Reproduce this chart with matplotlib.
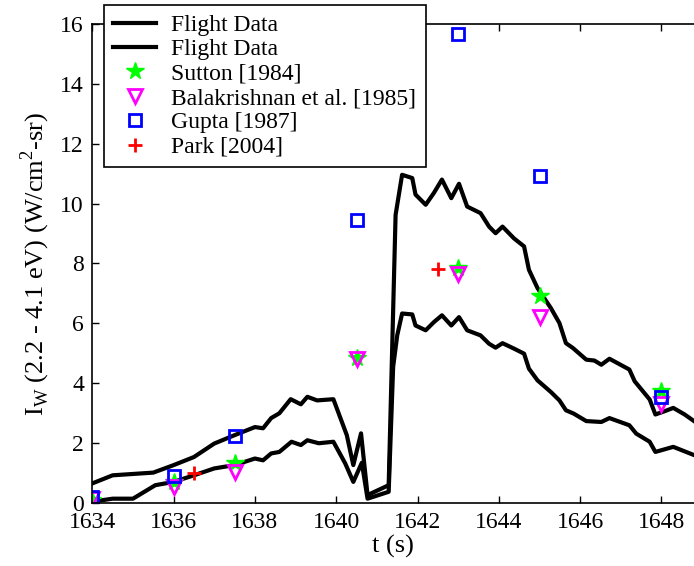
import matplotlib
matplotlib.use("Agg")
import matplotlib.pyplot as plt

plt.rcParams['font.family'] = ['Liberation Serif', 'DejaVu Serif']
plt.rcParams['mathtext.fontset'] = 'custom'
plt.rcParams['mathtext.rm'] = 'Liberation Serif'

t_upper = [1634.0, 1634.5, 1635.5, 1636.0, 1636.5, 1637.0, 1637.5, 1638.0, 1638.2, 1638.4,
           1638.6, 1638.88, 1639.13, 1639.29, 1639.53, 1639.93, 1640.26, 1640.42, 1640.61,
           1640.77, 1641.29, 1641.46, 1641.62, 1641.87, 1641.95, 1642.2, 1642.4, 1642.6,
           1642.83, 1643.02, 1643.22, 1643.55, 1643.76, 1643.92, 1644.09, 1644.37, 1644.62,
           1644.74, 1644.95, 1645.28, 1645.49, 1645.65, 1645.82, 1646.15, 1646.35, 1646.52,
           1646.72, 1647.21, 1647.34, 1647.71, 1647.85, 1648.08, 1648.29, 1648.57, 1648.81]
v_upper = [0.66, 0.93, 1.02, 1.27, 1.54, 1.99, 2.27, 2.54, 2.5, 2.84,
           3.0, 3.47, 3.3, 3.55, 3.43, 3.47, 2.27, 1.27, 2.33,
           0.27, 0.6, 9.62, 10.96, 10.85, 10.3, 9.96, 10.35, 10.8,
           10.18, 10.66, 9.9, 9.68, 9.23, 9.01, 9.23, 8.84, 8.57,
           7.79, 7.18, 6.51, 6.01, 5.34, 5.18, 4.79, 4.76, 4.62,
           4.82, 4.46, 4.07, 3.46, 2.96, 3.07, 3.18, 2.96, 2.73]

t_lower = [1634.0, 1634.5, 1635.0, 1635.55, 1636.0, 1636.5, 1637.0, 1637.5, 1638.0, 1638.2,
           1638.4, 1638.6, 1638.9, 1639.13, 1639.29, 1639.57, 1639.93, 1640.22, 1640.42,
           1640.63, 1640.77, 1641.29, 1641.4, 1641.5, 1641.62, 1641.87, 1641.95, 1642.2,
           1642.4, 1642.6, 1642.83, 1643.02, 1643.22, 1643.55, 1643.76, 1643.92, 1644.09,
           1644.37, 1644.62, 1644.74, 1644.95, 1645.28, 1645.49, 1645.65, 1645.84, 1646.15,
           1646.52, 1646.72, 1647.21, 1647.38, 1647.71, 1647.85, 1648.29, 1648.81]
v_lower = [0.05, 0.15, 0.15, 0.6, 0.71, 0.93, 1.16, 1.27, 1.49, 1.43,
           1.66, 1.71, 2.05, 1.94, 2.1, 2.0, 2.05, 1.33, 0.71,
           1.35, 0.15, 0.38, 4.55, 5.6, 6.33, 6.3, 5.93, 5.77,
           6.04, 6.27, 5.93, 6.21, 5.77, 5.6, 5.32, 5.19, 5.34,
           5.16, 4.99, 4.49, 4.1, 3.71, 3.43, 3.1, 2.99, 2.74,
           2.71, 2.84, 2.6, 2.32, 2.05, 1.71, 1.88, 1.6]

t_models = [1634.0, 1636.0, 1637.5, 1640.5, 1643.0, 1645.0, 1648.0]
sutton = [0.1, 0.7, 1.35, 4.85, 7.85, 6.9, 3.75]
balakrishnan = [0.15, 0.55, 1.05, 4.8, 7.65, 6.2, 3.3]
gupta = [0.2, 0.9, 2.25, 9.45, 15.65, 10.92, 3.55]
t_park = [1636.5, 1642.5]
park = [1.0, 7.8]

x_ticks = [1634, 1636, 1638, 1640, 1642, 1644, 1646, 1648]
y_ticks = [0, 2, 4, 6, 8, 10, 12, 14, 16]

fig = plt.figure(figsize=(6.94, 5.66), dpi=100)
ax = fig.add_axes([0.133, 0.111, 0.867, 0.847])

ax.plot(t_upper, v_upper, color='black', lw=3, label='Flight Data')
ax.plot(t_lower, v_lower, color='black', lw=3, label='Flight Data')
ax.plot(t_models, sutton, linestyle='none', marker='*', ms=13, color='#00ff00',
        mfc='#00ff00', mec='#00ff00', label='Sutton [1984]')
ax.plot(t_models, balakrishnan, linestyle='none', marker='v', ms=10, mfc='none',
        mec='#ff00ff', mew=2, label='Balakrishnan et al. [1985]')
ax.plot(t_models, gupta, linestyle='none', marker='s', ms=9, mfc='none',
        mec='#0000ff', mew=2, label='Gupta [1987]')
ax.plot(t_park, park, linestyle='none', marker='+', ms=10, mec='#ff0000', mew=2,
        label='Park [2004]')

ax.set_xlim(1634, 1648.8)
ax.set_ylim(0, 16)
ax.set_xticks(x_ticks)
ax.set_yticks(y_ticks)
ax.tick_params(direction='in', top=True, right=False, labelsize=17, length=5, width=1, pad=6)
for side in ['left', 'bottom', 'top']:
    ax.spines[side].set_linewidth(1.2)
ax.spines['right'].set_visible(False)

ax.set_xlabel('t (s)', fontsize=19, labelpad=2)
ax.set_ylabel(r'I$_\mathrm{W}$ (2.2 - 4.1 eV) (W/cm$^2$-sr)', fontsize=19, labelpad=6)

leg = ax.legend(loc='upper left', bbox_to_anchor=(104 / 694, 1 - 5 / 566),
                bbox_transform=fig.transFigure, fontsize=17, frameon=True,
                fancybox=False, edgecolor='black', framealpha=1,
                handlelength=1.8, borderpad=0.4, labelspacing=0.12,
                handletextpad=0.65, borderaxespad=0)
leg.get_frame().set_linewidth(1.2)
leg.set_zorder(10)

fig.savefig('out.png', dpi=100)
